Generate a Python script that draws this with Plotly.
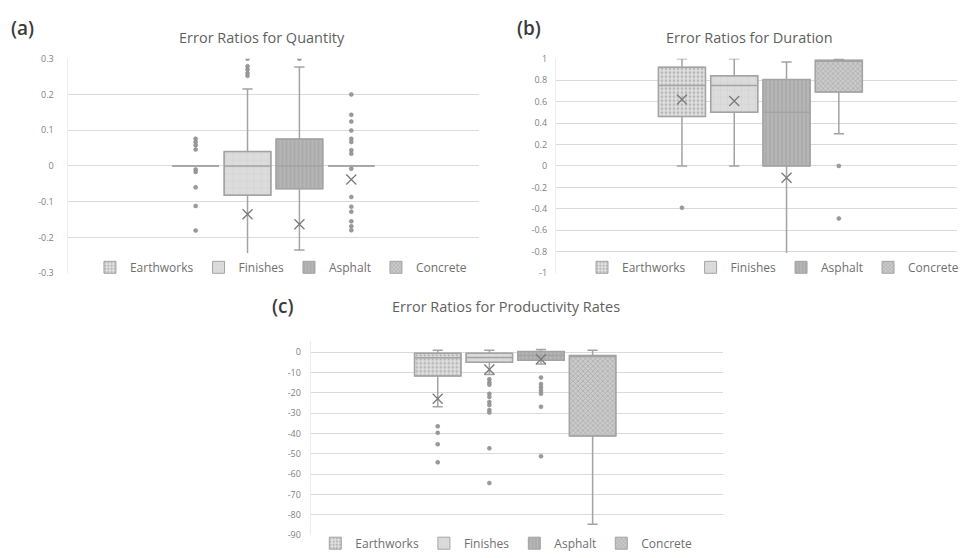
import plotly.graph_objects as go

SERIES = ["Earthworks", "Finishes", "Asphalt", "Concrete"]

# ---- (a) Error ratios for quantity ----
qty_q1 = [0.0, -0.082, -0.064, 0.0]
qty_median = [0.0, 0.0, 0.0, 0.0]
qty_q3 = [0.0, 0.040, 0.075, 0.0]
qty_lower = [0.0, -0.25, -0.235, 0.0]
qty_upper = [0.0, 0.215, 0.277, 0.0]
qty_mean = [None, -0.135, -0.163, -0.038]
qty_outliers = [
    [0.076, 0.067, 0.058, 0.046, -0.010, -0.017, -0.060, -0.112, -0.181],
    [0.300, 0.279, 0.270, 0.260, 0.252],
    [0.300],
    [0.200, 0.143, 0.124, 0.099, 0.076, 0.067, 0.044, 0.034, -0.008,
     -0.087, -0.114, -0.128, -0.155, -0.169, -0.180],
]
qty_ticks = [-0.3, -0.2, -0.1, 0, 0.1, 0.2, 0.3]
qty_ticktext = ["-0.3", "-0.2", "-0.1", "0", "0.1", "0.2", "0.3"]

# ---- (b) Error ratios for duration ----
dur_q1 = [0.46, 0.50, 0.0, 0.69]
dur_median = [0.75, 0.75, 0.50, 0.98]
dur_q3 = [0.92, 0.84, 0.805, 0.985]
dur_lower = [0.0, 0.0, -1.0, 0.30]
dur_upper = [1.0, 1.0, 0.97, 1.0]
dur_mean = [0.62, 0.605, -0.11, None]
dur_outliers = [[-0.39], [], [], [0.0, -0.49]]
dur_ticks = [-1, -0.8, -0.6, -0.4, -0.2, 0, 0.2, 0.4, 0.6, 0.8, 1]
dur_ticktext = ["-1", "-0.8", "-0.6", "-0.4", "-0.2", "0", "0.2", "0.4", "0.6", "0.8", "1"]

# ---- (c) Error ratios for productivity rates ----
prod_q1 = [-11.7, -5.0, -4.0, -41.2]
prod_median = [-2.8, -2.6, -1.6, -2.0]
prod_q3 = [-0.5, -0.5, 0.3, -1.6]
prod_lower = [-26.9, -11.0, -5.8, -84.7]
prod_upper = [1.0, 1.0, 1.3, 1.0]
prod_mean = [-22.9, -8.5, -3.5, None]
prod_outliers = [
    [-36.5, -39.7, -45.3, -54.2],
    [-13.3, -14.9, -16.0, -20.5, -22.0, -24.5, -26.0, -28.5, -29.7, -47.3, -64.4],
    [-12.5, -15.7, -17.3, -18.9, -20.5, -26.9, -51.2],
    [],
]
prod_ticks = [-90, -80, -70, -60, -50, -40, -30, -20, -10, 0]
prod_ticktext = ["-90", "-80", "-70", "-60", "-50", "-40", "-30", "-20", "-10", "0"]

# Fill textures for the four series
PATTERNS = {
    "Earthworks": dict(shape=".", bgcolor="#e2e2e2", fgcolor="#8a8a8a", size=4, solidity=0.4),
    "Finishes": dict(shape="+", bgcolor="#dcdcdc", fgcolor="#c6c6c6", size=7, solidity=0.15),
    "Asphalt": dict(shape="|", bgcolor="#b6b6b6", fgcolor="#969696", size=4, solidity=0.35),
    "Concrete": dict(shape="x", bgcolor="#cbcbcb", fgcolor="#8c8c8c", size=3.5, solidity=0.4),
}

EDGE = "#a3a3a3"
BOX_WIDTH = 0.9

fig = go.Figure()


def add_panel(xa, ya, legend, q1, med, q3, lo, hi, mean, outliers):
    # patterned box bodies (also provide the legend swatches)
    for i, name in enumerate(SERIES):
        fig.add_trace(go.Bar(
            x=[name], y=[q3[i] - q1[i]], base=[q1[i]], width=BOX_WIDTH,
            name=name, legend=legend, showlegend=True,
            marker=dict(color=PATTERNS[name]["bgcolor"], line=dict(color=EDGE, width=1),
                        pattern=PATTERNS[name]),
            xaxis=xa, yaxis=ya, hoverinfo="skip",
        ))
    # outlines, medians and whiskers
    fig.add_trace(go.Box(
        x=SERIES, q1=q1, median=med, q3=q3, lowerfence=lo, upperfence=hi,
        width=BOX_WIDTH, whiskerwidth=0.22, fillcolor="rgba(0,0,0,0)",
        line=dict(color=EDGE, width=1.5), boxpoints=False,
        showlegend=False, xaxis=xa, yaxis=ya,
    ))
    # outlying points
    ox, oy = [], []
    for i, name in enumerate(SERIES):
        ox += [name] * len(outliers[i])
        oy += outliers[i]
    fig.add_trace(go.Scatter(
        x=ox, y=oy, mode="markers", showlegend=False, xaxis=xa, yaxis=ya,
        marker=dict(symbol="circle", size=4, color="#9a9a9a",
                    line=dict(color="#858585", width=0.5)),
    ))
    # means
    mx = [n for n, m in zip(SERIES, mean) if m is not None]
    my = [m for m in mean if m is not None]
    fig.add_trace(go.Scatter(
        x=mx, y=my, mode="markers", showlegend=False, xaxis=xa, yaxis=ya,
        marker=dict(symbol="x-thin", size=10, line=dict(color="#7a7a7a", width=1.3)),
    ))


add_panel("x", "y", "legend", qty_q1, qty_median, qty_q3, qty_lower, qty_upper, qty_mean, qty_outliers)
add_panel("x2", "y2", "legend2", dur_q1, dur_median, dur_q3, dur_lower, dur_upper, dur_mean, dur_outliers)
add_panel("x3", "y3", "legend3", prod_q1, prod_median, prod_q3, prod_lower, prod_upper, prod_mean, prod_outliers)

W, H = 964, 558
FONT = "Open Sans"
GRID = "#dadada"
TICK_FONT = dict(family=FONT, size=9, color="#7f7f7f")


def xaxis(domain, rng, anchor):
    return dict(domain=domain, range=rng, anchor=anchor, type="category",
                categoryorder="array", categoryarray=SERIES, showticklabels=False,
                showgrid=False, zeroline=False, showline=False, ticks="", fixedrange=True)


def yaxis(domain, rng, anchor, tv, tt, standoff):
    return dict(domain=domain, range=rng, anchor=anchor, tickvals=tv, ticktext=tt,
                showgrid=True, gridcolor=GRID, gridwidth=1, zeroline=False,
                showline=True, linecolor="#ececec", linewidth=1, ticks="",
                tickfont=TICK_FONT, ticklabelstandoff=standoff, fixedrange=True)


top_dom = [1 - 273 / H, 1 - 53 / H]
fig.update_layout(
    width=W, height=H, margin=dict(l=0, r=0, t=0, b=0),
    paper_bgcolor="white", plot_bgcolor="white",
    barmode="overlay", boxmode="overlay",
    font=dict(family=FONT, color="#595959"),
    xaxis=xaxis([69 / W, 483 / W], [-2.45, 5.47], "y"),
    yaxis=yaxis(top_dom, [-0.3, 0.3], "x", qty_ticks, qty_ticktext, 12),
    xaxis2=xaxis([560 / W, 1.0], [-2.41, 5.26], "y2"),
    yaxis2=yaxis(top_dom, [-1, 1], "x2", dur_ticks, dur_ticktext, 6),
    xaxis3=xaxis([313 / W, 728 / W], [-2.46, 5.52], "y3"),
    yaxis3=yaxis([1 - 541.7 / H, 1 - 343 / H], [-90, 5.3], "x3", prod_ticks, prod_ticktext, 7),
)

LEG = dict(orientation="h", xanchor="center", yanchor="middle", bgcolor="white",
           font=dict(family=FONT, size=12, color="#6f6f6f"), itemwidth=30,
           traceorder="normal", itemclick=False, itemdoubleclick=False)
fig.update_layout(
    legend=dict(LEG, x=283 / W, y=1 - 267 / H),
    legend2=dict(LEG, x=779 / W, y=1 - 267 / H),
    legend3=dict(LEG, x=510 / W, y=1 - 550 / H),
)

# panel titles and letters
titles = [
    ("Error Ratios for Quantity", 264, 31),
    ("Error Ratios for Duration", 755, 31),
    ("Error Ratios for Productivity Rates", 510, 307),
]
letters = [("(a)", 9, 22), ("(b)", 519, 22), ("(c)", 272, 307)]
for text, x, y in titles:
    fig.add_annotation(text=text, x=x / W, y=1 - y / H, xref="paper", yref="paper",
                       xanchor="center", yanchor="middle", showarrow=False,
                       font=dict(family=FONT, size=14.5, color="#5f5f5f"))
for text, x, y in letters:
    fig.add_annotation(text=text, x=x / W, y=1 - y / H, xref="paper", yref="paper",
                       xanchor="left", yanchor="middle", showarrow=False,
                       font=dict(family=FONT, size=19, color="#3a3a3a", weight=600))

fig.write_html("out.html")
